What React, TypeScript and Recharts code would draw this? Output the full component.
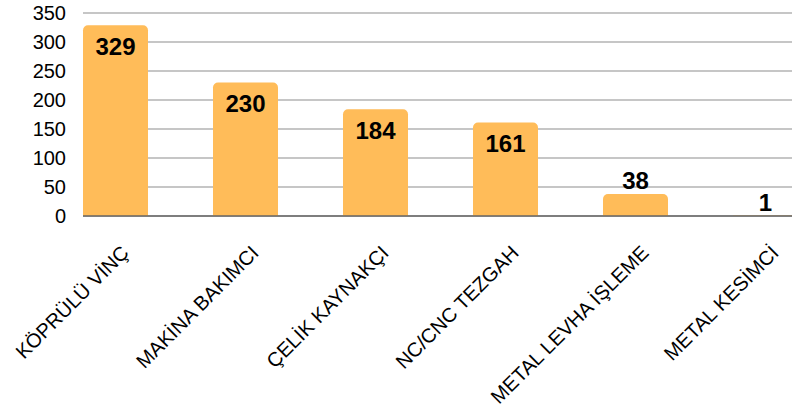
import React from 'react';
import { BarChart, Bar, XAxis, YAxis, CartesianGrid, LabelList } from 'recharts';

const categories = ['KÖPRÜLÜ VİNÇ', 'MAKİNA BAKIMCI', 'ÇELİK KAYNAKÇI', 'NC/CNC TEZGAH', 'METAL LEVHA İŞLEME', 'METAL KESİMCİ'];
const counts = [329, 230, 184, 161, 38, 1];
const yTicks = [0, 50, 100, 150, 200, 250, 300, 350];

const data = categories.map((name, i) => ({ name, value: counts[i] }));

const FONT = '"Liberation Sans", Arial, sans-serif';

const AngledTick = (props: any) => {
  const { x, y, payload } = props;
  const ax = x + 15;
  const ay = y + 30;
  return (
    <text
      x={ax}
      y={ay}
      transform={`rotate(-45, ${ax}, ${ay})`}
      textAnchor="end"
      fontSize={20}
      fontFamily={FONT}
      fill="#000"
    >
      {payload.value}
    </text>
  );
};

const ValueLabel = (props: any) => {
  const { x, y, width, value } = props;
  const inside = value >= 100;
  const ty = inside ? y + 21 : y - 13;
  return (
    <text
      x={x + width / 2}
      y={ty}
      textAnchor="middle"
      dominantBaseline="central"
      fontSize={24}
      fontWeight="bold"
      fontFamily={FONT}
      fill="#000"
    >
      {value}
    </text>
  );
};

export default function App() {
  return (
    <div style={{ position: 'absolute', left: 0, top: 0, background: '#fff' }}>
      <BarChart width={792} height={414} data={data} margin={{ top: 13, right: 0, bottom: 0, left: 0 }}>
        <CartesianGrid vertical={false} stroke="#b3b3b3" strokeWidth={1.3} />
        <XAxis
          dataKey="name"
          interval={0}
          height={198}
          padding={{ left: -33, right: -38 }}
          axisLine={{ stroke: '#666', strokeWidth: 1.5 }}
          tickLine={false}
          tick={<AngledTick />}
        />
        <YAxis
          width={83}
          domain={[0, 350]}
          ticks={yTicks}
          axisLine={false}
          tickLine={false}
          tickSize={0}
          tickMargin={17}
          tick={{ fontSize: 20, fontFamily: FONT, fill: '#000' }}
        />
        <Bar dataKey="value" fill="#FFBC59" barSize={65} radius={[5, 5, 0, 0]} isAnimationActive={false}>
          <LabelList dataKey="value" content={<ValueLabel />} />
        </Bar>
      </BarChart>
    </div>
  );
}
